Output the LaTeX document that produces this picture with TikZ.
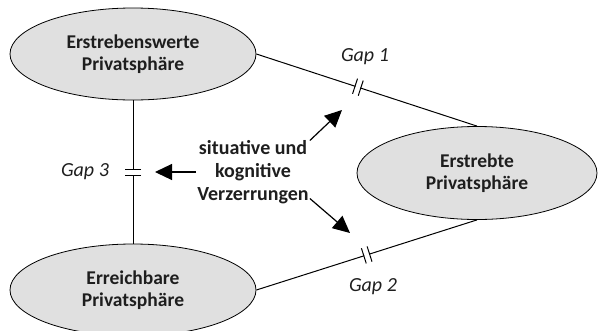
\documentclass[tikz,border=0pt]{standalone}
\usepackage{fontspec}
\setmainfont{Carlito}
\usetikzlibrary{positioning,arrows.meta,shapes.geometric}
\definecolor{sphclr}{RGB}{224,224,224}
\definecolor{txtclr}{RGB}{30,30,30}
\tikzset{
  sphere/.style={ellipse,draw,fill=sphclr,line width=0.8pt,text=txtclr,
                 minimum width=246pt,minimum height=92pt,inner sep=0pt,
                 align=center,font=\fontsize{19.5}{22}\selectfont\bfseries},
  link/.style={line width=1pt},
  gapmark/.style={sloped,fill=white,inner sep=0pt,
                  minimum width=5pt,minimum height=15pt,
                  append after command={(\tikzlastnode.north west) edge (\tikzlastnode.south west)
                                        (\tikzlastnode.north east) edge (\tikzlastnode.south east)}},
  gaplbl/.style={text=txtclr,font=\fontsize{20}{22}\selectfont\itshape},
  distort/.style={-{Triangle[length=17pt,width=16pt]},line width=1.2pt},
}

\begin{document}
\begin{tikzpicture}[x=1pt,y=-1pt,
    distlbl/.style={text=txtclr,align=center,inner sep=1pt,
                    font=\fontsize{20}{23}\selectfont\bfseries},
]
\useasboundingbox (0,0) rectangle (599,330);
% the three spheres
\node[sphere] (ideal) at (133,54) {Erstrebenswerte\\Privatsphäre};
\node[sphere,minimum width=240pt,minimum height=93pt] (goal) at (477,173) {Erstrebte\\Privatsphäre};
\node[sphere] (real) at (133,290) {Erreichbare\\Privatsphäre};
% gaps
\draw[link] (ideal.east) -- node[gapmark,pos=0.46] (g1) {} (goal.north);
\draw[link] (real.east) -- node[gapmark,pos=0.5] (g2) {} (goal.south);
\draw[link] (ideal.south) -- node[gapmark,pos=0.5] (g3) {} (real.north);
\node[gaplbl] (gl1) at (365,57) {Gap 1};
\node[gaplbl] (gl2) at (373,287) {Gap 2};
\node[gaplbl] (gl3) at (85,172) {Gap 3};
% distortions
\node[distlbl] (txt) at (253,172) {situative und\\kognitive\\Verzerrungen};
\coordinate (t1) at (342,110);
\coordinate (t2) at (350,233);
\coordinate (t3) at (155,172);
\draw[distort] (txt.29) -- (t1);
\draw[distort] (txt.-25) -- (t2);
\draw[distort] (txt.west) -- (t3);
\end{tikzpicture}
\end{document}
